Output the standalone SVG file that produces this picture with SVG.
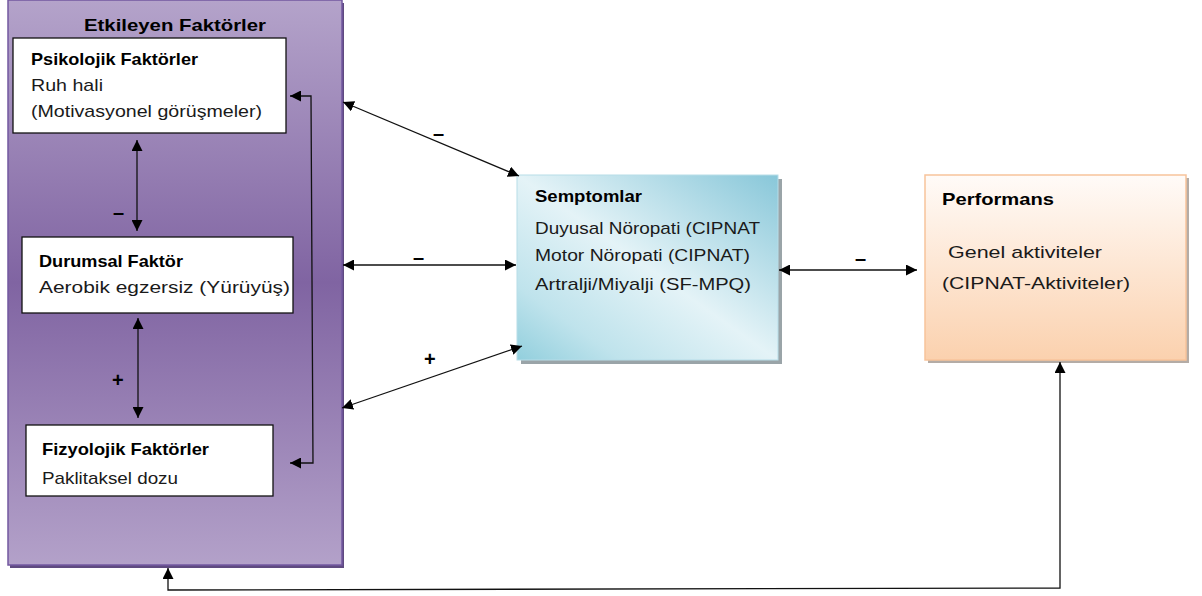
<svg xmlns="http://www.w3.org/2000/svg" width="1202" height="596" viewBox="0 0 1202 596">
<defs>
<linearGradient id="gPurple" x1="0" y1="0" x2="0" y2="1">
<stop offset="0" stop-color="#b4a3ca"/>
<stop offset="0.5" stop-color="#8064a2"/>
<stop offset="1" stop-color="#b3a1c9"/>
</linearGradient>
<linearGradient id="gBlue" x1="1" y1="0" x2="0" y2="1">
<stop offset="0" stop-color="#88c7d9"/>
<stop offset="0.5" stop-color="#e4f3f7"/>
<stop offset="0.8" stop-color="#bfe3ec"/>
<stop offset="1" stop-color="#92cfdd"/>
</linearGradient>
<linearGradient id="gPeach" x1="0" y1="0" x2="0" y2="1">
<stop offset="0" stop-color="#fffbf8"/>
<stop offset="1" stop-color="#fbd1ae"/>
</linearGradient>
<marker id="ah" viewBox="0 0 10 10" refX="10" refY="5" markerWidth="11" markerHeight="11" markerUnits="userSpaceOnUse" orient="auto-start-reverse">
<path d="M0,0 L10,5 L0,10 z" fill="#000"/>
</marker>
<style>
text{font-family:"Liberation Sans",Arial,sans-serif;font-size:17px;fill:#1a1a1a}
.b{font-weight:bold;fill:#000}
.box{fill:#fff;stroke:#111;stroke-width:1.3}
.con{fill:none;stroke:#111;stroke-width:1.3}
.lbl{font-weight:bold;font-size:20px;fill:#000}
</style>
</defs>

<g id="etkileyen">
<rect x="10" y="3" width="334" height="565" fill="#5f4a80"/>
<rect x="8" y="0" width="334" height="565" fill="url(#gPurple)" stroke="#7358a0" stroke-width="1.5"/>
<text class="b" x="84" y="31" textLength="182" lengthAdjust="spacingAndGlyphs">Etkileyen Faktörler</text>
</g>

<g id="psikolojik">
<rect class="box" x="13" y="38" width="273" height="95"/>
<text class="b" x="31" y="65" textLength="167" lengthAdjust="spacingAndGlyphs">Psikolojik Faktörler</text>
<text x="31" y="91" textLength="72" lengthAdjust="spacingAndGlyphs">Ruh hali</text>
<text x="31" y="117" textLength="231" lengthAdjust="spacingAndGlyphs">(Motivasyonel görüşmeler)</text>
</g>

<g id="durumsal">
<rect class="box" x="22" y="237" width="271" height="76"/>
<text class="b" x="39" y="267" textLength="144" lengthAdjust="spacingAndGlyphs">Durumsal Faktör</text>
<text x="39" y="293" textLength="251" lengthAdjust="spacingAndGlyphs">Aerobik egzersiz (Yürüyüş)</text>
</g>

<g id="fizyolojik">
<rect class="box" x="26" y="425" width="247" height="71"/>
<text class="b" x="42" y="455" textLength="167" lengthAdjust="spacingAndGlyphs">Fizyolojik Faktörler</text>
<text x="42" y="484" textLength="136" lengthAdjust="spacingAndGlyphs">Paklitaksel dozu</text>
</g>

<g id="semptomlar">
<rect x="521" y="179" width="261" height="185" fill="#9aa4a8"/>
<rect x="517" y="175" width="261" height="185" fill="url(#gBlue)" stroke="#b7dde8" stroke-width="1"/>
<text class="b" x="535" y="202" textLength="107" lengthAdjust="spacingAndGlyphs">Semptomlar</text>
<text x="535" y="234" textLength="225" lengthAdjust="spacingAndGlyphs">Duyusal Nöropati (CIPNAT</text>
<text x="535" y="261" textLength="215" lengthAdjust="spacingAndGlyphs">Motor Nöropati (CIPNAT)</text>
<text x="535" y="290" textLength="216" lengthAdjust="spacingAndGlyphs">Artralji/Miyalji (SF-MPQ)</text>
</g>

<g id="performans">
<rect x="928" y="178" width="261" height="185" fill="#b4aca6"/>
<rect x="925" y="175" width="261" height="185" fill="url(#gPeach)" stroke="#f8c39b" stroke-width="1.5"/>
<text class="b" x="942" y="205" textLength="112" lengthAdjust="spacingAndGlyphs">Performans</text>
<text x="948" y="258" textLength="154" lengthAdjust="spacingAndGlyphs">Genel aktiviteler</text>
<text x="942" y="289" textLength="188" lengthAdjust="spacingAndGlyphs">(CIPNAT-Aktiviteler)</text>
</g>

<g id="connectors">
<line class="con" x1="137" y1="140" x2="137" y2="231" marker-start="url(#ah)" marker-end="url(#ah)"/>
<line class="con" x1="138" y1="318" x2="138" y2="418" marker-start="url(#ah)" marker-end="url(#ah)"/>
<polyline class="con" points="290,96 311,96 313,463 290,463" marker-start="url(#ah)" marker-end="url(#ah)"/>
<line class="con" x1="343" y1="102" x2="519" y2="176" marker-start="url(#ah)" marker-end="url(#ah)"/>
<line class="con" x1="343" y1="265" x2="516" y2="265" marker-start="url(#ah)" marker-end="url(#ah)"/>
<line class="con" x1="342" y1="408" x2="522" y2="346" marker-start="url(#ah)" marker-end="url(#ah)"/>
<line class="con" x1="779" y1="270" x2="917" y2="270" marker-start="url(#ah)" marker-end="url(#ah)"/>
<polyline class="con" points="168,568 168,590 1060,588 1060,362" marker-start="url(#ah)" marker-end="url(#ah)"/>
<text class="lbl" x="113" y="219">–</text>
<text class="lbl" x="112" y="387">+</text>
<text class="lbl" x="433" y="140">–</text>
<text class="lbl" x="413" y="264">–</text>
<text class="lbl" x="424" y="366">+</text>
<text class="lbl" x="855" y="265">–</text>
</g>
</svg>
